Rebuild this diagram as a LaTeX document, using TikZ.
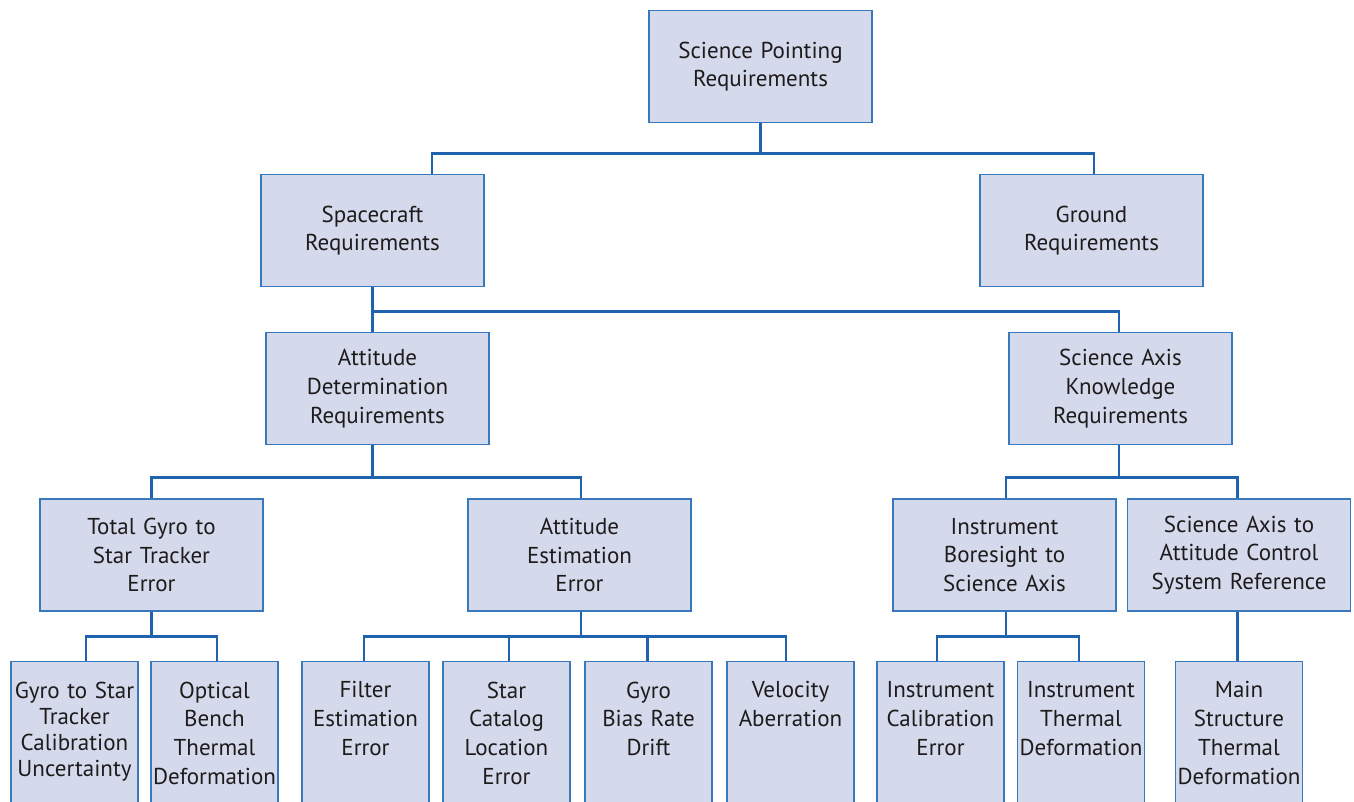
\documentclass[tikz,border=0pt]{standalone}
\usepackage{fontspec}
\setmainfont{PT Sans}
\usetikzlibrary{positioning}
\definecolor{boxfill}{HTML}{D4DAEC}
\definecolor{boxline}{HTML}{3A78BE}
\definecolor{linkblue}{HTML}{1F63AE}
\definecolor{inkgray}{HTML}{1E1B1C}
\tikzset{
    req/.style = {rectangle, draw=boxline, fill=boxfill, line width=1.3pt, minimum width=223pt, minimum height=112pt, text width=215pt, align=center, text=inkgray, font=\fontsize{23}{28.7}\selectfont, inner sep=0pt},
    leaf/.style = {rectangle, draw=boxline, fill=boxfill, line width=1.3pt, minimum width=127pt, minimum height=170pt, anchor=north, inner sep=0pt},
    leaftext/.style = {anchor=north, text width=127pt, align=center, text=inkgray, font=\fontsize{23}{28.7}\selectfont, inner sep=0pt, yshift=-21pt},
    link/.style = {draw=linkblue, line width=2.7pt}
}

\begin{document}
\begin{tikzpicture}[x=1pt, y=-1pt]

    \path[use as bounding box, fill=white] (0,0) rectangle (1354,802);
    \clip (0,0) rectangle (1354,802);

    % upper levels
    \node[req] (root) at (760.5,66.5) {Science Pointing\\Requirements};
    \node[req] (sc) at (372.5,230.5) {Spacecraft\\Requirements};
    \node[req] (gr) at (1091.5,230.5) {Ground\\Requirements};
    \node[req] (adr) at (377.5,388.5) {Attitude\\Determination\\Requirements};
    \node[req] (sak) at (1120.5,388.5) {Science Axis\\Knowledge\\Requirements};
    \node[req] (tg) at (151.5,555) {Total Gyro to\\Star Tracker\\Error};
    \node[req] (aee) at (579.5,555) {Attitude\\Estimation\\Error};
    \node[req] (ibs) at (1004.5,555) {Instrument\\Boresight to\\Science Axis};
    \node[req] (sac) at (1239,555) {Science Axis to\\Attitude Control\\System Reference};

    % error sources (boxes run off the bottom)
    \node[leaf] (g1) at (74.5,660.5) {};
    \node[leaf] (g2) at (214.5,660.5) {};
    \node[leaf] (f1) at (365.5,660.5) {};
    \node[leaf] (f2) at (506.5,660.5) {};
    \node[leaf] (f3) at (648.5,660.5) {};
    \node[leaf] (f4) at (790.5,660.5) {};
    \node[leaf] (i1) at (940.5,660.5) {};
    \node[leaf] (i2) at (1081,660.5) {};
    \node[leaf] (m1) at (1239,660.5) {};

    \node[leaftext, font=\fontsize{23}{26.3}\selectfont] (g1t) at (g1.north) {Gyro to Star\\Tracker\\Calibration\\Uncertainty};
    \node[leaftext] (g2t) at (g2.north) {Optical\\Bench\\Thermal\\Deformation};
    \node[leaftext] (f1t) at (f1.north) {Filter\\Estimation\\Error};
    \node[leaftext] (f2t) at (f2.north) {Star\\Catalog\\Location\\Error};
    \node[leaftext] (f3t) at (f3.north) {Gyro\\Bias Rate\\Drift};
    \node[leaftext] (f4t) at (f4.north) {Velocity\\Aberration};
    \node[leaftext] (i1t) at (i1.north) {Instrument\\Calibration\\Error};
    \node[leaftext] (i2t) at (i2.north) {Instrument\\Thermal\\Deformation};
    \node[leaftext] (m1t) at (m1.north) {Main\\Structure\\Thermal\\Deformation};

    % tree lines
    \draw[link] (root.south) -- ++(0,30.5) coordinate (b1);
    \draw[link] ([xshift=59.5pt]sc.north) |- (b1) -| ([xshift=2.5pt]gr.north);

    \draw[link] (sc.south) -- ([xshift=-5pt]adr.north);
    \draw[link] (sc.south) -- ++(0,24.5) -| ([xshift=-1.5pt]sak.north);

    \draw[link] ([xshift=-5pt]adr.south) -- ++(0,32) coordinate (b3);
    \draw[link] (tg.north) |- (b3) -| ([xshift=1.5pt]aee.north);

    \draw[link] ([xshift=-1.5pt]sak.south) -- ++(0,32) coordinate (b4);
    \draw[link] ([xshift=1.5pt]ibs.north) |- (b4) -| ([xshift=-1.5pt]sac.north);

    \draw[link] (tg.south) -- ++(0,24.5) coordinate (b5);
    \draw[link] ([xshift=11.5pt]g1.north) |- (b5) -| ([xshift=2.5pt]g2.north);

    \draw[link] ([xshift=1.5pt]aee.south) -- ++(0,24.5) coordinate (b6);
    \draw[link] ([xshift=-1.5pt]f1.north) |- (b6) -| ([xshift=-4.5pt]f4.north);
    \draw[link] ([xshift=2.5pt]f2.north) -- ([xshift=2.5pt]f2.north |- b6);
    \draw[link] ([xshift=-1pt]f3.north) -- ([xshift=-1pt]f3.north |- b6);

    \draw[link] ([xshift=1.5pt]ibs.south) -- ++(0,24.5) coordinate (b7);
    \draw[link] ([xshift=-3.5pt]i1.north) |- (b7) -| ([xshift=-2pt]i2.north);

    \draw[link] ([xshift=-1.5pt]sac.south) -- ([xshift=-1.5pt]m1.north);

\end{tikzpicture}
\end{document}
